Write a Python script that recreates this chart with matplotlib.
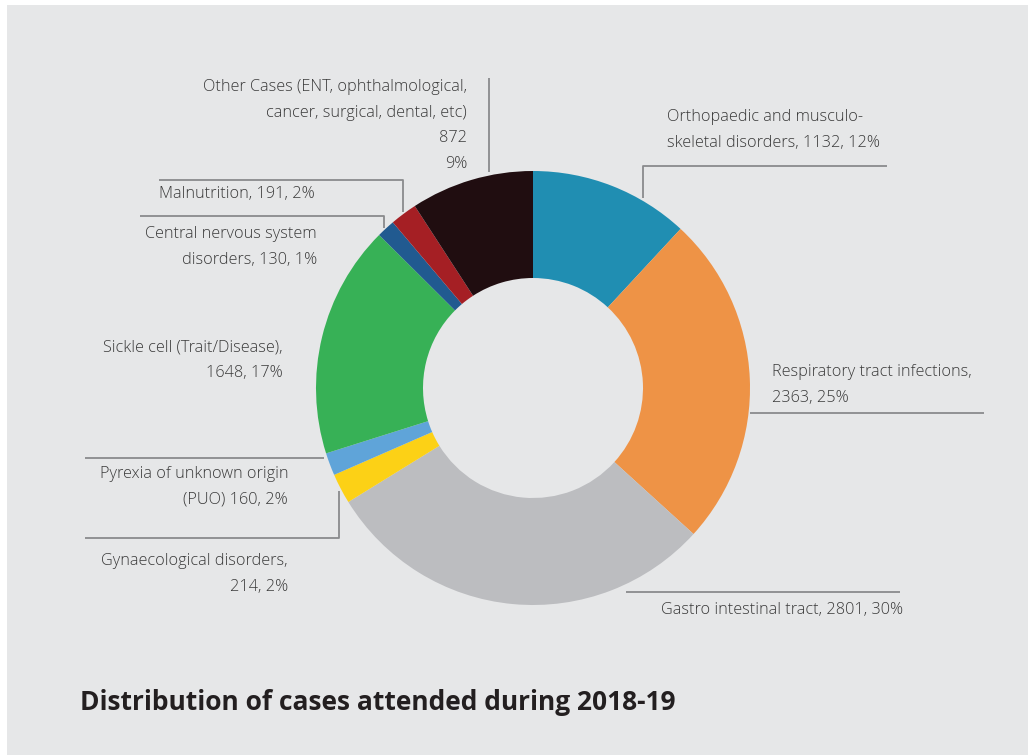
import matplotlib
matplotlib.use("Agg")
import matplotlib.pyplot as plt
from matplotlib.patches import Rectangle

# ---- data ----
categories = [
    "Orthopaedic and musculo-skeletal disorders",
    "Respiratory tract infections",
    "Gastro intestinal tract",
    "Gynaecological disorders",
    "Pyrexia of unknown origin (PUO)",
    "Sickle cell (Trait/Disease)",
    "Central nervous system disorders",
    "Malnutrition",
    "Other Cases (ENT, ophthalmological, cancer, surgical, dental, etc)",
]
cases = [1132, 2363, 2801, 214, 160, 1648, 130, 191, 872]
percents = [12, 25, 30, 2, 2, 17, 1, 2, 9]
colors = ["#208eb2", "#ee9346", "#bcbdc0", "#fcd116", "#5fa4d9",
          "#37b156", "#215a90", "#a51f24", "#200d10"]

label_texts = [
    "Orthopaedic and musculo-\nskeletal disorders, {}, {}%",
    "Respiratory tract infections,\n{}, {}%",
    "Gastro intestinal tract, {}, {}%",
    "Gynaecological disorders,\n{}, {}%",
    "Pyrexia of unknown origin\n(PUO) {}, {}%",
    "Sickle cell (Trait/Disease),\n{}, {}%",
    "Central nervous system\ndisorders, {}, {}%",
    "Malnutrition, {}, {}%",
    "Other Cases (ENT, ophthalmological,\ncancer, surgical, dental, etc)\n{}\n{}%",
]

W, H = 1028, 755
BG = "#e6e7e8"
LINE = "#8a8b8d"
TXT = "#3a3a3a"


def Y(y):
    # image-pixel y (top down) -> axes y (bottom up)
    return H - y


fig = plt.figure(figsize=(W / 100, H / 100), dpi=100, facecolor="white")
ax = fig.add_axes([0, 0, 1, 1])
ax.set_xlim(0, W)
ax.set_ylim(0, H)
ax.set_aspect("equal")
ax.axis("off")

ax.add_patch(Rectangle((7, 0), W - 7, H - 5, facecolor=BG, edgecolor="none", zorder=0))

cx, cy, R = 533, 388, 217
ax.pie(cases, colors=colors, startangle=90, counterclock=False,
       center=(cx, Y(cy)), radius=R,
       wedgeprops=dict(width=R - 110, edgecolor="none", linewidth=0))
ax.set_xlim(0, W)
ax.set_ylim(0, H)

plt.rcParams["font.family"] = ["Open Sans", "DejaVu Sans"]
fs = 11.7

# leader lines (image pixel coords)
leaders = [
    [(643, 198), (643, 166), (887, 166)],   # orthopaedic
    [(750, 413), (984, 413)],               # respiratory
    [(626, 592), (900, 592)],               # gastro
    [(339, 491), (339, 538), (85, 538)],    # gynae
    [(85, 458), (324, 458)],                # PUO
    [],                                     # sickle
    [(140, 216), (384, 216), (384, 228)],   # CNS
    [(159, 180), (403, 180), (403, 212)],   # malnutrition
    [(489, 78), (489, 172)],                # other
]
for pts in leaders:
    if pts:
        ax.plot([p[0] for p in pts], [Y(p[1]) for p in pts],
                color=LINE, lw=1.3, solid_capstyle="butt", zorder=1)

# label anchors: (x, y_top, ha)
anchors = [
    (667, 109, "left"),
    (772, 364, "left"),
    (903, 602, "right"),
    (288, 553, "right"),
    (288, 466, "right"),
    (283, 339, "right"),
    (317, 226, "right"),
    (315, 186, "right"),
    (467, 79, "right"),
]
for txt, n, p, (x, y, ha) in zip(label_texts, cases, percents, anchors):
    ax.text(x, Y(y), txt.format(n, p), ha=ha, va="top", fontsize=fs,
            color=TXT, linespacing=1.8, multialignment=ha, fontweight="light")

ax.text(80, Y(702), "Distribution of cases attended during 2018-19",
        ha="left", va="center", fontsize=19, fontweight="bold", color="#231f20")

fig.savefig("out.png", dpi=100, facecolor="white")
